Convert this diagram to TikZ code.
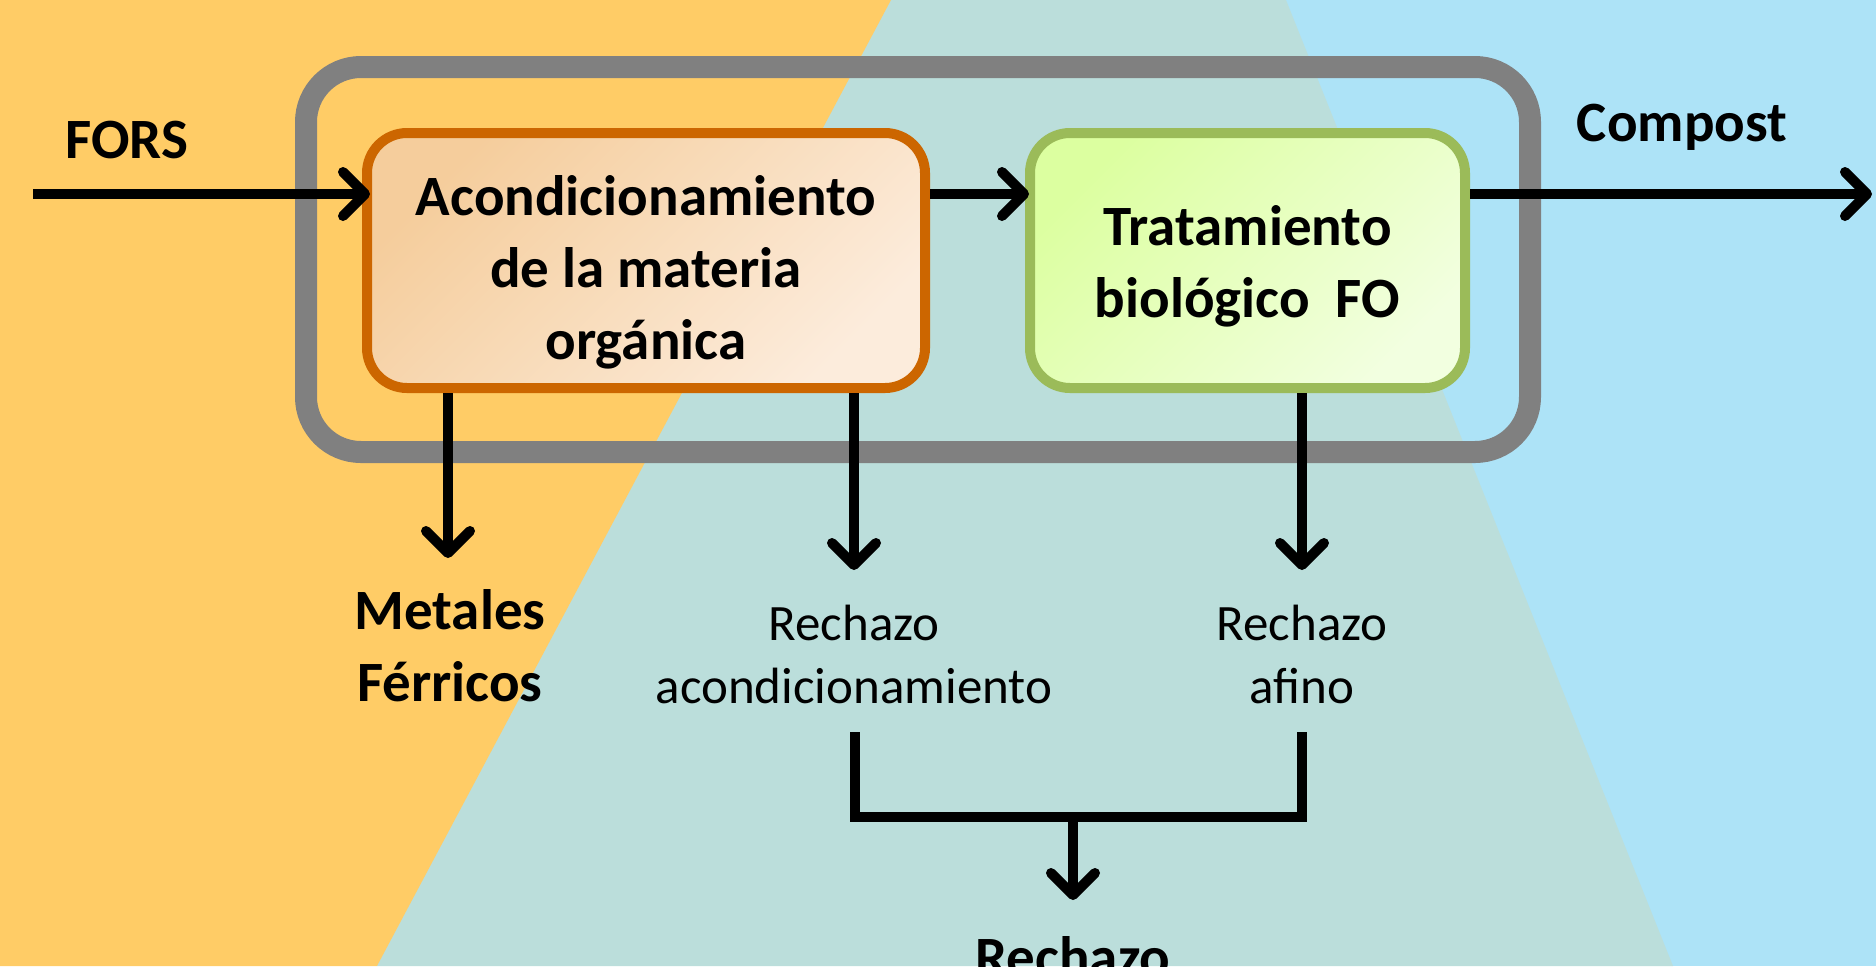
\documentclass[tikz,border=0pt]{standalone}
\usepackage{fontspec}
\setmainfont{Carlito}
\usetikzlibrary{arrows.meta,shadows}
\definecolor{bgorange}{RGB}{255,204,102}
\definecolor{bgteal}{RGB}{187,222,219}
\definecolor{bgblue}{RGB}{173,227,247}
\definecolor{framegray}{RGB}{128,128,128}
\definecolor{orangeline}{RGB}{204,102,0}
\definecolor{orangetop}{RGB}{245,205,156}
\definecolor{orangebot}{RGB}{252,236,220}
\definecolor{greenline}{RGB}{155,187,89}
\definecolor{greentop}{RGB}{220,255,160}
\definecolor{greenbot}{RGB}{242,255,224}
\tikzset{
  boldtext/.style={font=\bfseries\fontsize{28.5}{36}\selectfont, align=center, text=black},
  regtext/.style={font=\fontsize{25.5}{31.5}\selectfont, align=center, text=black},
  procbox/.style={draw, line width=5pt, rounded corners=20pt, inner sep=0pt,
    minimum height=127.5pt,
    drop shadow={shadow xshift=1.5pt, shadow yshift=-2pt, opacity=0.25}},
  framebox/.style={draw=framegray, line width=11pt, rounded corners=27.5pt,
    minimum width=612pt, minimum height=192.5pt, inner sep=0pt},
  flow/.style={line width=5pt, draw=black,
    -{Straight Barb[length=11pt, width=22pt, round]}},
  joinline/.style={line width=5pt, draw=black, line join=miter}
}
\begin{document}
\begin{tikzpicture}[x=0.5pt, y=-0.5pt]
\useasboundingbox (0,0) rectangle (1876,966);
\clip (0,0) rectangle (1876,966);
% background bands
\fill[bgblue] (0,0) rectangle (1876,966);
\fill[bgteal] (891,0) -- (1286,0) -- (1673,966) -- (377,966) -- cycle;
\fill[bgorange] (0,0) -- (891,0) -- (377,966) -- (0,966) -- cycle;
% frame
\node[framebox] (frame) at (918,259.5) {};
% process boxes
\node[procbox, draw=orangeline, top color=orangetop, bottom color=orangebot,
  shading angle=45, minimum width=279pt] (acond) at (646,260.5) {};
\node[boldtext] (acondtext) at ([yshift=-6pt]acond.center)
  {Acondicionamiento\\de la materia\\orgánica};
\node[procbox, draw=greenline, top color=greentop, bottom color=greenbot,
  shading angle=45, minimum width=217.5pt] (trat) at (1247.5,260.5) {};
\node[boldtext] (trattext) at ([yshift=-3pt]trat.center)
  {Tratamiento\\biológico\ \ FO};
% labels
\node[boldtext, anchor=base] (fors) at (127,158) {FORS};
\node[boldtext, anchor=base] (compost) at (1682,141) {Compost};
\node[boldtext, anchor=base] (metales) at (450,701) {Metales\\Férricos};
\node[regtext, anchor=base] (rechA) at (854,703) {Rechazo\\acondicionamiento};
\node[regtext, anchor=base] (rechB) at (1302,703) {Rechazo\\afino};
\node[boldtext, anchor=base] (rechazo) at (1073,976) {Rechazo};
% coordinates
\coordinate (yline) at (0,194);
\coordinate (forsstart) at (33,194);
\coordinate (compostend) at (1872,194);
\coordinate (metTip) at (448,558);
\coordinate (rAtip) at (854,570);
\coordinate (rBtip) at (1302,570);
\coordinate (jL) at (855,732);
\coordinate (jR) at (1302,732);
\coordinate (jbar) at (0,817);
\coordinate (jmid) at (1073,817);
\coordinate (finTip) at (1073,900);
% connectors
\draw[flow] (forsstart) -- ([xshift=4pt]acond.west |- yline);
\draw[flow] (acond.east |- yline) -- ([xshift=2pt]trat.west |- yline);
\draw[flow] (trat.east |- yline) -- (compostend);
\draw[flow] (acond.south -| metTip) -- (metTip);
\draw[flow] (acond.south -| rAtip) -- (rAtip);
\draw[flow] (trat.south -| rBtip) -- (rBtip);
\draw[joinline] (jL) -- (jL |- jbar) -- (jR |- jbar) -- (jR);
\draw[flow] (jmid) -- (finTip);
\end{tikzpicture}
\end{document}
